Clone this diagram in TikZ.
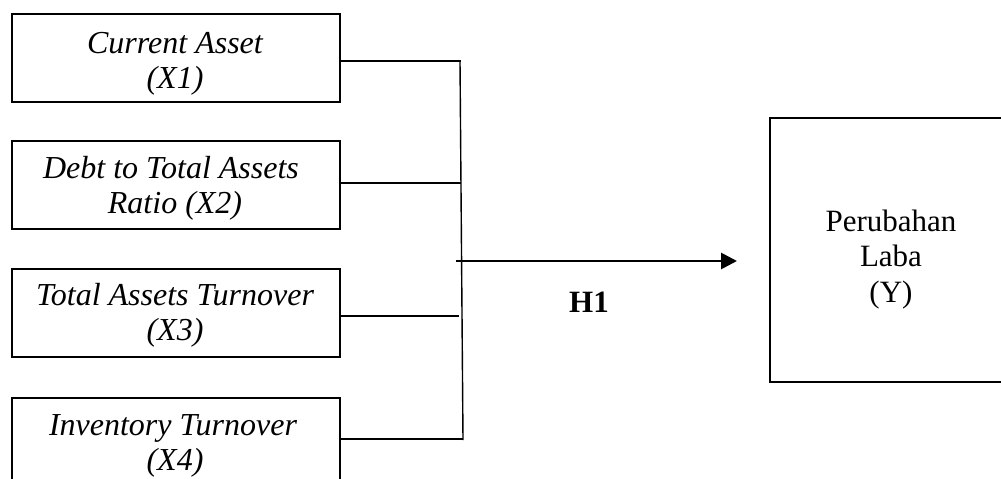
\documentclass[tikz,border=0pt]{standalone}
\usepackage{fontspec}
\setmainfont{Liberation Serif}
\usetikzlibrary{arrows.meta}
\begin{document}
\begin{tikzpicture}[x=1pt,y=-1pt,
  boxx/.style={draw=black,line width=1.5pt,minimum width=328pt,minimum height=88pt,inner sep=0pt,anchor=north west},
  lbl/.style={anchor=base,inner sep=0pt,font=\fontsize{32}{36}\selectfont\itshape},
  lblr/.style={anchor=base,inner sep=0pt,font=\fontsize{31}{36}\selectfont},
  conn/.style={line width=1.4pt},
  arr/.style={line width=2.8pt,-{Triangle[length=16pt,width=16pt]}}]
\useasboundingbox (0,0) rectangle (1001,479);
\clip (0,0) rectangle (1001,479);
% input boxes
\node[boxx] (b1) at (11,13) {};
\node[boxx] (b2) at (11,140) {};
\node[boxx] (b3) at (11,268) {};
\node[boxx] (b4) at (11,397) {};
% output box
\node[draw=black,line width=1.5pt,minimum width=242pt,minimum height=264pt,inner sep=0pt,anchor=north west] (y) at (769,117) {};
% labels
\node[lbl] (t1a) at (175,53) {Current Asset};
\node[lbl] (t1b) at (175,88) {(X1)};
\node[lbl] (t2a) at (171,178) {Debt to Total Assets};
\node[lbl] (t2b) at (175,213) {Ratio (X2)};
\node[lbl] (t3a) at (175,305) {Total Assets Turnover};
\node[lbl] (t3b) at (175,340) {(X3)};
\node[lbl] (t4a) at (173,435) {Inventory Turnover};
\node[lbl] (t4b) at (175,470) {(X4)};
\node[lblr] (ya) at (891,231) {Perubahan};
\node[lblr] (yb) at (891,266) {Laba};
\node[lblr] (yc) at (891,302) {(Y)};
\node[lblr,font=\fontsize{31}{36}\selectfont\bfseries] (h1) at (589,312) {H1};
% bus coordinates
\coordinate (j1) at (461,61);
\coordinate (j2) at (461,183);
\coordinate (j3) at (459,316);
\coordinate (j4) at (463,439);
\coordinate (bt) at (460,61);
\coordinate (bb) at (463,440);
\coordinate (as) at (456,261);
\coordinate (tip) at (737,261);
% connectors
\draw[conn] (b1.east |- j1) -- (j1);
\draw[conn] (b2.east |- j2) -- (j2);
\draw[conn] (b3.east |- j3) -- (j3);
\draw[conn] (b4.east |- j4) -- (j4);
\draw[conn] (bt) -- (bb);
\draw[arr] (as) -- (tip);
\end{tikzpicture}
\end{document}
